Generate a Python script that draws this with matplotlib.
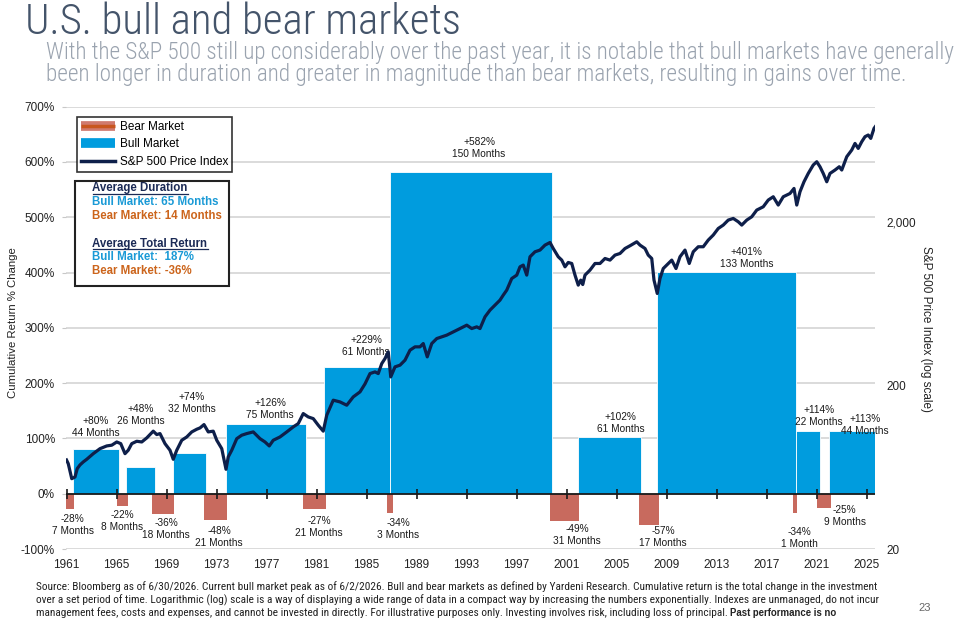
import os
import matplotlib
matplotlib.use('Agg')
import matplotlib.pyplot as plt
from matplotlib import font_manager
from matplotlib.font_manager import FontProperties
from matplotlib.lines import Line2D
from matplotlib.patches import Rectangle
from matplotlib.legend_handler import HandlerTuple
from matplotlib.ticker import NullLocator

# ---------------- data ----------------
bull_start = [1961.52, 1965.74, 1969.54, 1973.76, 1981.60, 1986.90, 2001.90, 2008.22, 2019.34, 2022.00]
bull_end = [1965.20, 1968.08, 1972.16, 1980.14, 1986.88, 1999.86, 2006.96, 2019.34, 2021.28, 2025.76]
bull_return = [80, 48, 74, 126, 229, 582, 102, 401, 114, 113]
bull_months = [44, 26, 32, 75, 61, 150, 61, 133, 22, 44]

bear_start = [1960.96, 1965.06, 1967.86, 1972.00, 1979.92, 1986.62, 1999.68, 2006.82, 2019.12, 2021.06]
bear_end = [1961.62, 1965.90, 1969.62, 1973.86, 1981.74, 1987.10, 2002.02, 2008.38, 2019.46, 2022.16]
bear_return = [-28, -22, -36, -48, -27, -34, -49, -57, -34, -25]
bear_months = [7, 8, 18, 21, 21, 3, 31, 17, 1, 9]

sp_year = [
    1961.00, 1961.14, 1961.42, 1961.68, 1961.86, 1962.08, 1962.34, 1962.62, 1963.14, 1963.68,
    1964.22, 1964.62, 1965.02, 1965.34, 1965.68, 1965.94, 1966.22, 1966.62, 1967.02, 1967.42,
    1967.94, 1968.22, 1968.48, 1968.88, 1969.28, 1969.54, 1969.82, 1970.22, 1970.62, 1971.02,
    1971.42, 1971.68, 1972.00, 1972.34, 1972.74, 1973.02, 1973.42, 1973.76, 1973.94, 1974.22,
    1974.62, 1975.02, 1975.42, 1975.94, 1976.48, 1976.88, 1977.22, 1977.54, 1978.08, 1978.62,
    1979.14, 1979.54, 1979.94, 1980.34, 1980.74, 1981.14, 1981.54, 1981.82, 1982.34, 1982.88,
    1983.42, 1983.94, 1984.48, 1984.88, 1985.28, 1985.68, 1985.94, 1986.22, 1986.48, 1986.74,
    1986.94, 1987.28, 1987.68, 1988.08, 1988.48, 1988.88, 1989.28, 1989.54, 1989.86, 1990.22,
    1990.62, 1991.02, 1991.42, 1991.94, 1992.48, 1993.02, 1993.42, 1993.82, 1994.08, 1994.48,
    1994.88, 1995.28, 1995.68, 1995.94, 1996.22, 1996.62, 1997.02, 1997.28, 1997.54, 1997.82,
    1998.08, 1998.48, 1998.88, 1999.28, 1999.68, 1999.94, 2000.34, 2000.62, 2000.88, 2001.14,
    2001.42, 2001.68, 2001.94, 2002.14, 2002.30, 2002.48, 2002.88, 2003.28, 2003.68, 2004.08,
    2004.48, 2004.88, 2005.28, 2005.68, 2006.08, 2006.62, 2006.88, 2007.28, 2007.54, 2007.82,
    2008.00, 2008.26, 2008.48, 2008.74, 2009.14, 2009.42, 2009.76, 2010.08, 2010.48, 2010.82,
    2011.14, 2011.54, 2011.94, 2012.34, 2012.74, 2013.14, 2013.54, 2013.94, 2014.34, 2014.74,
    2015.02, 2015.42, 2015.82, 2016.22, 2016.74, 2017.14, 2017.54, 2017.94, 2018.34, 2018.88,
    2019.20, 2019.42, 2019.68, 2020.00, 2020.34, 2020.74, 2021.02, 2021.28, 2021.54, 2021.82,
    2022.08, 2022.48, 2022.82, 2023.02, 2023.42, 2023.82, 2024.08, 2024.34, 2024.62, 2024.88,
    2025.14, 2025.34, 2025.60, 2025.70]
sp_value = [
    70, 66.5, 53.8, 55.1, 62.0, 65.3, 68.1, 70.7, 76.5, 82.1,
    85.3, 86.2, 90.2, 88.1, 76.5, 80.3, 88.1, 91.1, 90.2, 95.5,
    105.0, 100.1, 101.5, 88.1, 80.3, 70.7, 80.3, 92.4, 96.8, 103.9,
    107.9, 109.9, 115.2, 103.9, 105.0, 92.4, 82.1, 61.4, 73.1, 80.3,
    94.5, 99.2, 101.5, 103.9, 94.5, 90.2, 85.3, 92.4, 96.8, 103.9,
    111.5, 116.8, 134.5, 128.3, 125.3, 114.2, 105.0, 131.5, 162.4, 158.5,
    151.3, 170.1, 182.5, 204.2, 236.2, 241.8, 236.2, 271.8, 291.6, 320.6,
    225.4, 259.5, 265.8, 285.2, 328.3, 344.0, 344.0, 360.4, 298.8, 360.4,
    386.6, 396.0, 405.6, 424.8, 445.0, 466.8, 445.0, 455.8, 445.0, 524.8,
    576.8, 618.8, 664, 712.4, 764.4, 900, 944, 1061, 1087, 944,
    1222, 1311, 1343, 1440, 1494, 1373, 1222, 1166, 1061, 1128,
    1112, 944, 820, 880, 827, 944, 1013, 1112, 1112, 1193,
    1166, 1251, 1280, 1373, 1427, 1509, 1440, 1373, 1251, 1193,
    880, 729, 900, 1036, 1112, 1166, 1036, 1222, 1343, 1112,
    1311, 1407, 1407, 1546, 1659, 1820, 1909, 2048, 2096, 2000,
    1909, 2048, 2146, 2358, 2470, 2715, 2844, 2530, 2844, 2978,
    3196, 2530, 3052, 3512, 3949, 4446, 4656, 4338, 3949, 3512,
    3949, 4142, 4338, 4142, 4996, 5490, 6024, 5614, 6171, 6622,
    6782, 6464, 7442, 7622]

year_ticks = list(range(1961, 2026, 4))
pct_ticks = [-100, 0, 100, 200, 300, 400, 500, 600, 700]
price_ticks = [20, 200, 2000]
price_tick_labels = ['20', '200', '2,000']

# label anchor positions (layout, not data)
bull_label_x = [1963.36, 1966.96, 1971.0, 1977.28, 1984.96, 1994.0, 2005.34, 2015.42, 2021.18, 2024.88]
bull_label_y = [120, 142, 164, 154, 268, 626, 127, 427, 141, 124]
bear_label_x = [1961.48, 1965.44, 1968.98, 1973.2, 1981.2, 1987.52, 2001.84, 2008.72, 2019.6, 2023.24]
bear_label_y = [-57, -49, -63, -78, -60, -64, -75, -79, -81, -41]

# ---------------- fonts ----------------
avail = {f.name for f in font_manager.fontManager.ttflist}
def pick(*names):
    for n in names:
        if n in avail:
            return n
    return 'DejaVu Sans'
BASE = pick('Liberation Sans', 'Arial', 'DejaVu Sans')
TITLEF = pick('Roboto', 'Lato', 'Open Sans', BASE)
plt.rcParams['font.family'] = [BASE, 'DejaVu Sans']

def find_condensed(prefer_light):
    best, best_score = None, -1
    for f in font_manager.fontManager.ttflist:
        fn = os.path.basename(f.fname)
        key = f.name + ' ' + fn
        is_cond = any(w in key for w in ('Condensed', 'Narrow')) or \
            f.stretch in ('condensed', 'semi-condensed', 'extra-condensed')
        if not is_cond:
            continue
        if any(b in fn for b in ('Bold', 'Italic', 'Oblique', 'Black', 'Thin', 'Extra', 'Semi')):
            continue
        score = 1
        if 'Roboto' in key:
            score += 4
        if 'Liberation' in key:
            score += 3
        if 'Light' in fn:
            score += 2 if prefer_light else -2
        if score > best_score:
            best, best_score = f.fname, score
    return best

cond_light = find_condensed(True)
cond_reg = find_condensed(False)
if cond_light:
    title_fp = FontProperties(fname=cond_light)
else:
    title_fp = FontProperties(family=TITLEF, weight='light')
if cond_reg:
    foot_fp = FontProperties(fname=cond_reg)
else:
    foot_fp = FontProperties(family=BASE)

BULL = '#009CDE'
BEAR = '#C86A5E'
LINE = '#0E1F4A'
W, H = 957, 620
def fx(px): return px / W
def fy(py): return 1 - py / H

fig = plt.figure(figsize=(W / 100, H / 100), dpi=100)
fig.patch.set_facecolor('white')

ax = fig.add_axes([fx(66), fy(549), fx(875) - fx(66), fy(106.7) - fy(549)])
ax.set_xlim(1960.96, 2025.68)
ax.set_ylim(-100, 700)
for s in ax.spines.values():
    s.set_visible(False)
ax.set_axisbelow(True)
ax.set_yticks(pct_ticks)
ax.set_yticklabels([f'{v}%' for v in pct_ticks])
ax.yaxis.grid(True, color='#D4D4D4', lw=1.2)
ax.tick_params(axis='y', length=3, color='#C8C8C8', pad=5, labelsize=8.5, labelcolor='#222222')
ax.set_xticks(year_ticks)
ax.set_xticklabels([str(y) for y in year_ticks])
ax.tick_params(axis='x', length=0, pad=7, labelsize=8.5, labelcolor='#222222')

# bars
ax.bar(bull_start, bull_return, width=[e - s for s, e in zip(bull_start, bull_end)],
       align='edge', color=BULL, edgecolor='white', linewidth=0.6, zorder=2)
ax.bar(bear_start, bear_return, width=[e - s for s, e in zip(bear_start, bear_end)],
       align='edge', color=BEAR, edgecolor='none', linewidth=0, zorder=2)

# zero axis line with ticks
ax.axhline(0, color='#1a1a1a', lw=1.3, zorder=3)
ax.plot(year_ticks, [0] * len(year_ticks), ls='none', marker='|', ms=7, mew=1.2,
        color='#1a1a1a', zorder=3, clip_on=False)

# bar labels
for x, y, r, m in zip(bull_label_x, bull_label_y, bull_return, bull_months):
    ax.text(x, y, f'+{r}%\n{m} Months', ha='center', va='center', fontsize=7.3,
            color='#1a1a1a', linespacing=1.25, zorder=4)
for x, y, r, m in zip(bear_label_x, bear_label_y, bear_return, bear_months):
    unit = 'Month' if m == 1 else 'Months'
    ax.text(x, y, f'{r}%\n{m} {unit}', ha='center', va='center', fontsize=7.3,
            color='#1a1a1a', linespacing=1.25, zorder=4)

# price line on log axis
ax2 = ax.twinx()
ax2.set_yscale('log')
ax2.set_ylim(20, 10100)
for s in ax2.spines.values():
    s.set_visible(False)
ax2.plot(sp_year, sp_value, color=LINE, lw=2.3, solid_joinstyle='round', zorder=5)
ax2.set_yticks(price_ticks)
ax2.set_yticklabels(price_tick_labels)
ax2.yaxis.set_minor_locator(NullLocator())
ax2.tick_params(axis='y', length=0, pad=8, labelsize=8.5, labelcolor='#222222')

# axis titles
fig.text(fx(13), fy(323), 'Cumulative Return % Change', rotation=90, ha='center', va='center',
         fontsize=8.2, color='#222222')
fig.text(fx(926), fy(329), 'S&P 500 Price Index (log scale)', rotation=270, ha='center', va='center',
         fontsize=8.5, color='#222222')

# legend
h_bear = (Line2D([], [], color='#D07A6E', lw=7, solid_capstyle='butt'),
          Line2D([], [], color='#C8561F', lw=2.5, solid_capstyle='butt'))
h_bull = Line2D([], [], color=BULL, lw=7, solid_capstyle='butt')
h_line = Line2D([], [], color=LINE, lw=2.5)
leg = ax2.legend([h_bear, h_bull, h_line], ['Bear Market', 'Bull Market', 'S&P 500 Price Index'],
                 handler_map={tuple: HandlerTuple(ndivide=1, pad=0)},
                 loc='upper left', bbox_to_anchor=(fx(77), fy(117)), bbox_transform=fig.transFigure,
                 frameon=True, fancybox=False, edgecolor='black', fontsize=8.5,
                 handlelength=2.9, handletextpad=0.35, borderpad=0.35, labelspacing=0.45,
                 borderaxespad=0)
leg.get_frame().set_linewidth(1.2)
leg.set_zorder(10)

# stats box
fig.add_artist(Rectangle((fx(75.3), fy(286)), fx(229) - fx(75.3), fy(180.7) - fy(286),
                         transform=fig.transFigure, facecolor='white', edgecolor='#222222',
                         lw=1.5, zorder=5))
NAVY = '#1B2A55'
BLUE_T = '#1A9AD6'
ORANGE_T = '#CC651C'
stats = [
    ('Average Duration', NAVY, 188.3, True),
    ('Bull Market: 65 Months', BLUE_T, 201.7, False),
    ('Bear Market: 14 Months', ORANGE_T, 215.5, False),
    ('Average Total Return', NAVY, 243.5, True),
    ('Bull Market:  187%', BLUE_T, 257.0, False),
    ('Bear Market: -36%', ORANGE_T, 271.0, False),
]
stat_texts = []
for s, c, yy, ul in stats:
    t = fig.text(fx(92.5), fy(yy), s, color=c, fontsize=8.3, fontweight='bold',
                 ha='left', va='center', zorder=6)
    stat_texts.append((t, ul, c))

# title, subtitle
title = fig.text(fx(25), fy(33.5), 'U.S. bull and bear markets', fontproperties=title_fp,
                 fontsize=23, color='#44546A', va='baseline', ha='left')
sub1 = fig.text(fx(46), fy(59.5), 'With the S&P 500 still up considerably over the past year, it is notable that bull markets have generally',
                fontproperties=title_fp, fontsize=12, color='#9AA3AF', va='baseline', ha='left')
sub2 = fig.text(fx(46), fy(80.5), 'been longer in duration and greater in magnitude than bear markets, resulting in gains over time.',
                fontproperties=title_fp, fontsize=12, color='#9AA3AF', va='baseline', ha='left')

# footnote
foot = [
    'Source: Bloomberg as of 6/30/2026. Current bull market peak as of 6/2/2026. Bull and bear markets as defined by Yardeni Research. Cumulative return is the total change in the investment',
    'over a set period of time. Logarithmic (log) scale is a way of displaying a wide range of data in a compact way by increasing the numbers exponentially. Indexes are unmanaged, do not incur',
    'management fees, costs and expenses, and cannot be invested in directly. For illustrative purposes only. Investing involves risk, including loss of principal. ',
]
foot_bold = 'Past performance is no'
foot_y = [587, 600, 613]
ft = [fig.text(fx(36), fy(yy), s, fontproperties=foot_fp, fontsize=7, color='#222222', va='center', ha='left')
      for s, yy in zip(foot, foot_y)]
fig.text(fx(925), fy(608), '23', fontsize=8, color='#666666', va='center', ha='center')

# fit widths
fig.canvas.draw()
r = fig.canvas.get_renderer()
def fit(t, target):
    w = t.get_window_extent(r).width
    t.set_fontsize(t.get_fontsize() * target / w)
if cond_light:
    fit(title, 437)
    fit(sub1, 905)
    sub2.set_fontsize(sub1.get_fontsize())
fit(ft[0], 852)
for t in ft[1:]:
    t.set_fontsize(ft[0].get_fontsize())
fig.canvas.draw()
r = fig.canvas.get_renderer()
bb = ft[2].get_window_extent(r)
bold_fp = foot_fp.copy()
bold_fp.set_weight('bold')
fig.text(bb.x1 / W, fy(613), foot_bold, fontproperties=bold_fp if not cond_reg else FontProperties(family=BASE, weight='bold'),
         fontsize=ft[0].get_fontsize() * (0.85 if cond_reg else 1.0), color='#222222', va='center', ha='left')

# underline headings in stats box
for t, ul, c in stat_texts:
    if ul:
        b = t.get_window_extent(r)
        yline = b.y0 + 0.5
        fig.add_artist(Line2D([b.x0 / W, b.x1 / W], [yline / H, yline / H],
                              transform=fig.transFigure, color=c, lw=0.9, zorder=7))

fig.savefig('out.png', dpi=100, facecolor='white')
